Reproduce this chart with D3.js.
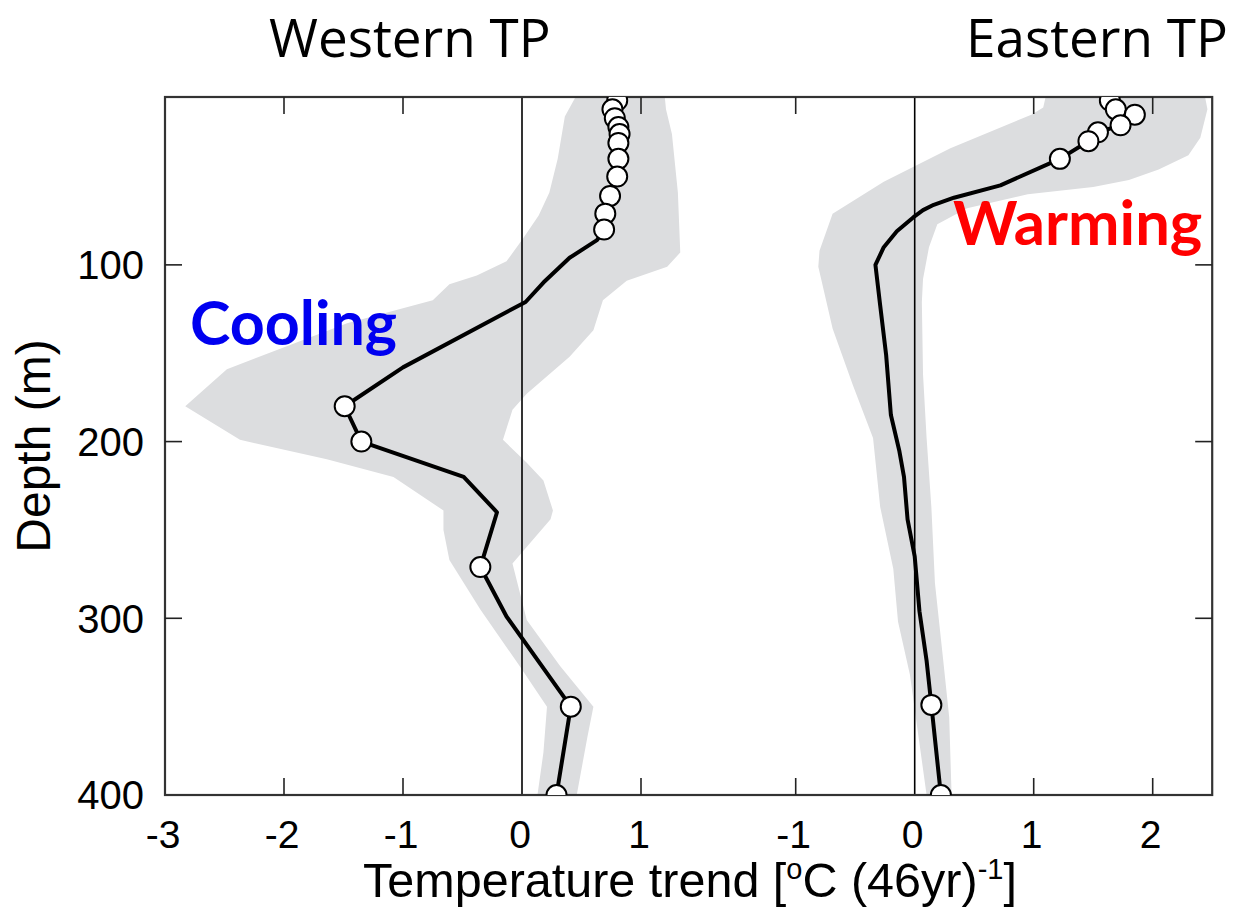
<!DOCTYPE html>
<html>
<head>
<meta charset="utf-8">
<script src="https://cdn.jsdelivr.net/npm/d3@7"></script>
<style>
  body { margin: 0; background: #fff; }
</style>
</head>
<body>
<script>
"use strict";

// western TP profile (depth in m, trend in degC per 46 yr), 1 = drawn with a circle
let westDepth = [7, 12, 17, 22, 26, 31, 40, 50, 61, 71, 80, 86, 96, 110, 121, 158, 180, 200, 220, 240, 271, 299, 350, 400];
let westTrend = [0.80, 0.76, 0.78, 0.81, 0.82, 0.81, 0.81, 0.80, 0.74, 0.70, 0.69, 0.63, 0.40, 0.18, 0.03, -1.0, -1.49, -1.35, -0.49, -0.21, -0.35, -0.13, 0.41, 0.29];
let westMark  = [1, 1, 1, 1, 1, 1, 1, 1, 1, 1, 1, 0, 0, 0, 0, 0, 1, 1, 0, 0, 1, 0, 1, 1];

// western uncertainty band, lower and upper edge
let westLoDepth = [5, 16, 40, 59, 72, 85, 98, 106, 111, 120, 133, 159, 180, 199, 210, 220, 239, 250, 267, 295, 327, 350, 376, 400];
let westLo      = [0.45, 0.36, 0.30, 0.23, 0.14, 0.01, -0.13, -0.38, -0.61, -0.75, -1.47, -2.48, -2.83, -2.37, -1.64, -1.08, -0.66, -0.66, -0.61, -0.35, -0.02, 0.21, 0.18, 0.13];
let westHiDepth = [5, 12, 26, 59, 93, 101, 109, 120, 137, 152, 173, 182, 199, 212, 222, 239, 244, 269, 301, 327, 350, 367, 400];
let westHi      = [1.20, 1.21, 1.26, 1.31, 1.33, 1.22, 0.88, 0.68, 0.60, 0.40, 0.04, -0.08, -0.16, 0.04, 0.18, 0.26, 0.24, -0.08, 0.04, 0.32, 0.60, 0.55, 0.46];

// eastern TP profile
let eastDepth = [7, 12, 15, 21, 25, 30, 40, 55, 62, 66, 69, 73, 81, 90, 100, 123, 151, 185, 205, 220, 244, 265, 296, 324, 349, 400];
let eastTrend = [1.64, 1.69, 1.85, 1.73, 1.54, 1.46, 1.22, 0.72, 0.33, 0.16, 0.07, -0.01, -0.15, -0.26, -0.33, -0.29, -0.24, -0.20, -0.13, -0.09, -0.06, 0.0, 0.04, 0.10, 0.14, 0.22];
let eastMark  = [1, 1, 1, 1, 1, 1, 1, 0, 0, 0, 0, 0, 0, 0, 0, 0, 0, 0, 0, 0, 0, 0, 0, 0, 1, 1];

let eastLoDepth = [5, 11, 15, 34, 53, 71, 92, 101, 136, 168, 198, 237, 272, 302, 332, 400];
let eastLo      = [1.10, 1.08, 0.98, 0.30, -0.26, -0.69, -0.80, -0.81, -0.69, -0.52, -0.35, -0.29, -0.18, -0.14, -0.04, 0.10];
let eastHiDepth = [5, 12, 28, 38, 46, 52, 56, 60, 68, 77, 90, 108, 121, 162, 198, 237, 280, 324, 356, 400];
let eastHi      = [2.44, 2.46, 2.40, 2.30, 2.05, 1.80, 1.50, 0.95, 0.44, 0.19, 0.12, 0.07, 0.06, 0.07, 0.10, 0.14, 0.17, 0.24, 0.29, 0.31];

// axes
let westDomain = [-3, 1.65];
let eastDomain = [-1.65, 2.5];
let westTicks = [-3, -2, -1, 0, 1];
let eastTicks = [-1, 0, 1, 2];
let depthDomain = [5, 400];
let depthTicks = [100, 200, 300, 400];

let w = 1247, h = 912;
let plotLeft = 165, plotTop = 97, plotBottom = 795;
let unit = 119; // px per degree, same for both panels

let xW = d3.scaleLinear().domain(westDomain).range([plotLeft, plotLeft + (westDomain[1] - westDomain[0]) * unit]);
let xE = d3.scaleLinear().domain(eastDomain).range([xW.range()[1], xW.range()[1] + (eastDomain[1] - eastDomain[0]) * unit]);
let plotRight = xE.range()[1];
let y = d3.scaleLinear().domain(depthDomain).range([plotTop, plotBottom]);

let svg = d3.select("body").append("svg")
    .attr("width", w)
    .attr("height", h);

svg.append("defs").append("clipPath").attr("id", "plot")
    .append("rect")
    .attr("x", plotLeft).attr("y", plotTop)
    .attr("width", plotRight - plotLeft).attr("height", plotBottom - plotTop);

let plot = svg.append("g").attr("clip-path", "url(#plot)");

function band(x, loD, lo, hiD, hi) {
    let pts = loD.map(function (d, i) { return [x(lo[i]), y(d)]; });
    let back = hiD.map(function (d, i) { return [x(hi[i]), y(d)]; }).reverse();
    return d3.line().curve(d3.curveLinearClosed)(pts.concat(back));
}

plot.append("path")
    .attr("d", band(xW, westLoDepth, westLo, westHiDepth, westHi))
    .attr("fill", "#dcdddf");
plot.append("path")
    .attr("d", band(xE, eastLoDepth, eastLo, eastHiDepth, eastHi))
    .attr("fill", "#dcdddf");

// zero lines
[xW(0), xE(0)].forEach(function (x0) {
    plot.append("line")
        .attr("x1", x0).attr("x2", x0)
        .attr("y1", plotTop).attr("y2", plotBottom)
        .attr("stroke", "#000")
        .attr("stroke-width", 1.6);
});

// frame
svg.append("rect")
    .attr("x", plotLeft).attr("y", plotTop)
    .attr("width", plotRight - plotLeft).attr("height", plotBottom - plotTop)
    .attr("fill", "none")
    .attr("stroke", "#333")
    .attr("stroke-width", 2.2);

let tickLen = 17;
let axisFont = "'Liberation Sans', Arial, Helvetica, sans-serif";

// x ticks, inside on top and bottom, zero is the vertical line already
function xTicks(x, ticks) {
    ticks.forEach(function (t) {
        let px = x(t);
        if (t !== 0 && px > plotLeft + 2) {
            svg.append("line").attr("x1", px).attr("x2", px).attr("y1", plotTop).attr("y2", plotTop + tickLen)
                .attr("stroke", "#222").attr("stroke-width", 1.6);
            svg.append("line").attr("x1", px).attr("x2", px).attr("y1", plotBottom).attr("y2", plotBottom - tickLen)
                .attr("stroke", "#222").attr("stroke-width", 1.6);
        }
        svg.append("text")
            .attr("x", px - 2)
            .attr("y", 848)
            .attr("text-anchor", "middle")
            .style("font", "39px " + axisFont)
            .text(t);
    });
}
xTicks(xW, westTicks);
xTicks(xE, eastTicks);

depthTicks.forEach(function (t) {
    let py = y(t);
    if (t < depthDomain[1]) {
        svg.append("line").attr("x1", plotLeft).attr("x2", plotLeft + tickLen).attr("y1", py).attr("y2", py)
            .attr("stroke", "#222").attr("stroke-width", 1.6);
        svg.append("line").attr("x1", plotRight).attr("x2", plotRight - tickLen).attr("y1", py).attr("y2", py)
            .attr("stroke", "#222").attr("stroke-width", 1.6);
    }
    svg.append("text")
        .attr("x", 144)
        .attr("y", py)
        .attr("dy", "0.36em")
        .attr("text-anchor", "end")
        .style("font", "40px " + axisFont)
        .text(t);
});

svg.append("text")
    .attr("transform", "translate(50,446) rotate(-90)")
    .attr("text-anchor", "middle")
    .style("font", "48px " + axisFont)
    .text("Depth (m)");

let xt = svg.append("text")
    .attr("x", 690)
    .attr("y", 897)
    .attr("text-anchor", "middle")
    .style("font", "48.5px " + axisFont);
xt.append("tspan").text("Temperature trend [");
xt.append("tspan").attr("dy", -18).style("font-size", "29px").text("o");
xt.append("tspan").attr("dy", 18).text("C (46yr)");
xt.append("tspan").attr("dy", -18).style("font-size", "29px").text("-1");
xt.append("tspan").attr("dy", 18).text("]");

// profiles, circles at the top get cut by the frame like in the figure
function profile(x, depth, trend, mark) {
    let pts = depth.map(function (d, i) { return {d: d, t: trend[i], m: mark[i]}; });
    let g = svg.append("g").attr("clip-path", "url(#plot)");
    g.append("path")
        .datum(pts)
        .attr("d", d3.line()
            .x(function (p) { return x(p.t); })
            .y(function (p) { return y(p.d); }))
        .attr("fill", "none")
        .attr("stroke", "#000")
        .attr("stroke-width", 4)
        .attr("stroke-linejoin", "round");
    g.selectAll("circle")
        .data(pts.filter(function (p) { return p.m === 1; }))
        .enter()
        .append("circle")
        .attr("cx", function (p) { return x(p.t); })
        .attr("cy", function (p) { return y(p.d); })
        .attr("r", 10)
        .attr("fill", "#fff")
        .attr("stroke", "#000")
        .attr("stroke-width", 2);
}
profile(xW, westDepth, westTrend, westMark);
profile(xE, eastDepth, eastTrend, eastMark);

// panel titles and labels
let titleFont = "'Open Sans', 'Noto Sans', sans-serif";
svg.append("text").attr("x", 269).attr("y", 57)
    .style("font", "53px " + titleFont).text("Western TP");
svg.append("text").attr("x", 966).attr("y", 57)
    .style("font", "53px " + titleFont).text("Eastern TP");

svg.append("text").attr("x", 190).attr("y", 345)
    .style("font", "bold 61px Lato, sans-serif")
    .attr("fill", "#0000f0")
    .text("Cooling");
svg.append("text").attr("x", 953).attr("y", 245)
    .style("font", "bold 61.5px Lato, sans-serif")
    .attr("fill", "#ff0000")
    .text("Warming");
</script>
</body>
</html>
